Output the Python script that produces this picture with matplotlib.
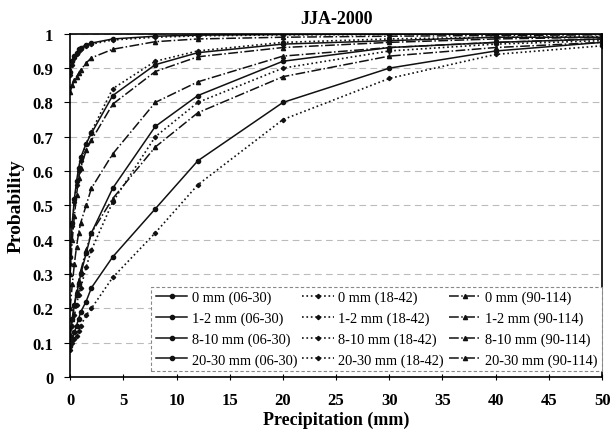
import numpy as np
import matplotlib.pyplot as plt

plt.rcParams['font.family'] = ['Liberation Serif', 'DejaVu Serif']

# precipitation thresholds (mm)
precip = [0, 0.2, 0.4, 0.6, 0.8, 1, 1.5, 2, 4, 8, 12, 20, 30, 40, 50]

# cumulative probabilities, lead 06-30
p0_0630 = [0.89, 0.92, 0.935, 0.945, 0.955, 0.96, 0.968, 0.973, 0.985, 0.993, 0.996, 0.998, 0.999, 1.0, 1.0]
p12_0630 = [0.35, 0.45, 0.52, 0.57, 0.61, 0.64, 0.68, 0.71, 0.82, 0.91, 0.945, 0.97, 0.98, 0.99, 0.99]
p810_0630 = [0.12, 0.17, 0.21, 0.24, 0.27, 0.30, 0.36, 0.42, 0.55, 0.73, 0.82, 0.92, 0.96, 0.975, 0.985]
p2030_0630 = [0.09, 0.11, 0.13, 0.15, 0.17, 0.19, 0.22, 0.26, 0.35, 0.49, 0.63, 0.80, 0.90, 0.95, 0.975]

# lead 18-42
p0_1842 = [0.88, 0.91, 0.93, 0.94, 0.95, 0.955, 0.963, 0.97, 0.982, 0.99, 0.994, 0.997, 0.998, 0.999, 1.0]
p12_1842 = [0.33, 0.44, 0.51, 0.56, 0.60, 0.63, 0.68, 0.715, 0.84, 0.92, 0.95, 0.975, 0.985, 0.99, 0.992]
p810_1842 = [0.11, 0.15, 0.18, 0.21, 0.24, 0.26, 0.32, 0.37, 0.51, 0.70, 0.80, 0.90, 0.95, 0.97, 0.98]
p2030_1842 = [0.08, 0.10, 0.11, 0.12, 0.135, 0.15, 0.18, 0.20, 0.29, 0.42, 0.56, 0.75, 0.87, 0.94, 0.965]

# lead 90-114
p0_90114 = [0.83, 0.85, 0.865, 0.875, 0.885, 0.895, 0.915, 0.93, 0.955, 0.977, 0.985, 0.99, 0.993, 0.995, 0.997]
p12_90114 = [0.30, 0.40, 0.47, 0.53, 0.58, 0.61, 0.66, 0.69, 0.795, 0.89, 0.933, 0.96, 0.975, 0.985, 0.99]
p810_90114 = [0.20, 0.27, 0.33, 0.38, 0.42, 0.45, 0.50, 0.55, 0.65, 0.80, 0.86, 0.935, 0.96, 0.975, 0.985]
p2030_90114 = [0.12, 0.17, 0.21, 0.25, 0.28, 0.31, 0.37, 0.42, 0.52, 0.67, 0.77, 0.875, 0.935, 0.96, 0.975]

labels_0630 = ['0 mm (06-30)', '1-2 mm (06-30)', '8-10 mm (06-30)', '20-30 mm (06-30)']
labels_1842 = ['0 mm (18-42)', '1-2 mm (18-42)', '8-10 mm (18-42)', '20-30 mm (18-42)']
labels_90114 = ['0 mm (90-114)', '1-2 mm (90-114)', '8-10 mm (90-114)', '20-30 mm (90-114)']

fig, ax = plt.subplots(figsize=(6.1, 4.35), dpi=100)
fig.subplots_adjust(left=0.115, right=0.987, top=0.92, bottom=0.131)

for y, lab in zip([p0_0630, p12_0630, p810_0630, p2030_0630], labels_0630):
    ax.plot(precip, y, '-', color='#111111', lw=1.1, marker='o', ms=3, label=lab)
for y, lab in zip([p0_1842, p12_1842, p810_1842, p2030_1842], labels_1842):
    ax.plot(precip, y, ':', color='#111111', lw=1.2, marker='D', ms=2.2, label=lab)
for y, lab in zip([p0_90114, p12_90114, p810_90114, p2030_90114], labels_90114):
    ax.plot(precip, y, '-.', color='#111111', lw=1.1, marker='^', ms=3, label=lab)

ax.set_xlim(0, 50)
ax.set_ylim(0, 1)
ax.set_xticks(np.arange(0, 51, 5))
ax.set_yticks(np.arange(0, 1.01, 0.1))
ax.set_yticklabels(['0', '0.1', '0.2', '0.3', '0.4', '0.5', '0.6', '0.7', '0.8', '0.9', '1'])
ax.yaxis.grid(True, ls=(0, (6, 4)), color='#bbbbbb', lw=0.8)
ax.set_axisbelow(True)
ax.tick_params(axis='x', direction='inout', length=5, labelsize=12, pad=8)
ax.tick_params(axis='y', direction='out', length=4, labelsize=12, pad=8)
for t in ax.get_xticklabels() + ax.get_yticklabels():
    t.set_fontweight('bold')
for s in ax.spines.values():
    s.set_linewidth(1.2)

ax.set_title('JJA-2000', fontsize=13, fontweight='bold', pad=8)
ax.set_xlabel('Precipitation (mm)', fontsize=13, fontweight='bold', labelpad=2)
ax.set_ylabel('Probability', fontsize=14, fontweight='bold', labelpad=6)

leg = ax.legend(loc='lower right', bbox_to_anchor=(1.0, 0.018), borderaxespad=0,
                ncol=3, fontsize=10.4, handlelength=2.2, handletextpad=0.3,
                columnspacing=0.35, labelspacing=0.5, borderpad=0.3,
                fancybox=False, framealpha=1)
leg.get_frame().set_edgecolor('#888888')
leg.get_frame().set_linestyle((0, (3, 2)))
leg.get_frame().set_linewidth(0.8)

fig.savefig('out.png', dpi=100)
